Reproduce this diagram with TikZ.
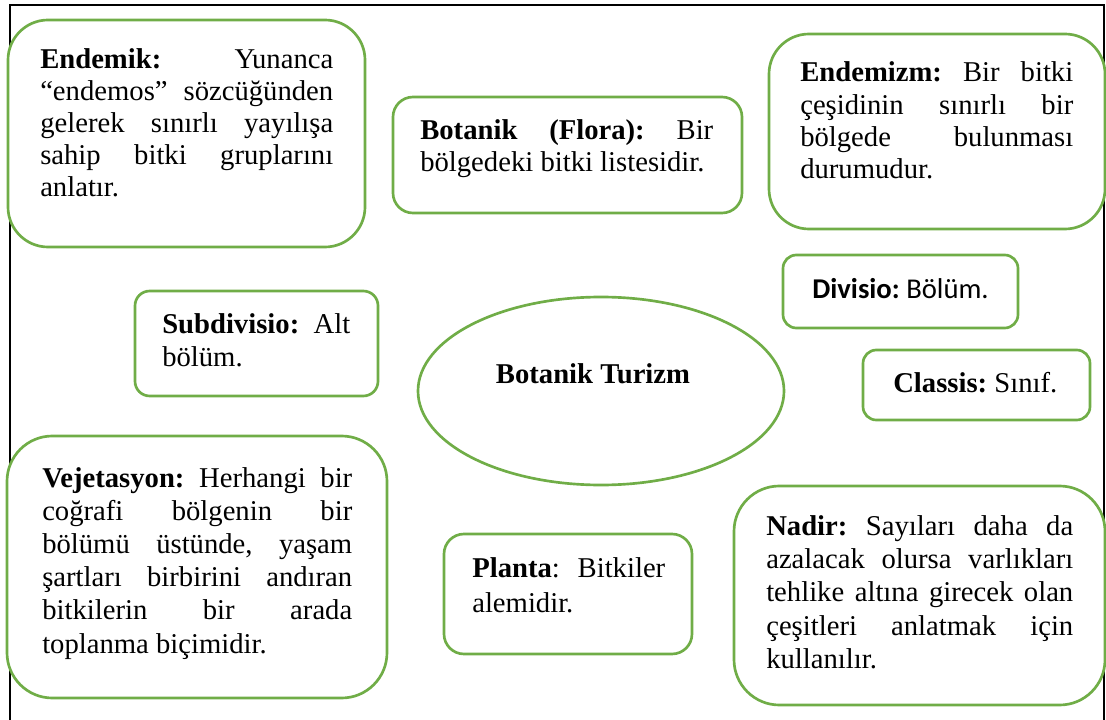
\documentclass[tikz,border=0pt]{standalone}
\usepackage{fontspec}
\setmainfont{Liberation Serif}
\newfontfamily\calibri{Carlito}
\usetikzlibrary{shapes.geometric}
\definecolor{gr}{HTML}{70AD47}
\hbadness=10000 \hfuzz=50pt
\frenchspacing
% a paragraph of given width made of explicit lines
\newcommand{\para}[2]{\vtop{\hsize=#1\relax\frenchspacing #2}}
\newcommand{\jl}[1]{\hbox to \hsize{#1}}
\newcommand{\lastline}[1]{\hbox{#1}}
\begin{document}
\begin{tikzpicture}[x=0.75pt,y=-0.75pt,
  gbox/.style={draw=gr, line width=2pt, fill=white, rectangle, rounded corners=#1, inner sep=0pt, outer sep=0pt},
  txt/.style={anchor=base west, inner sep=0pt, font=\fontsize{21.5pt}{#1}\selectfont},
  one/.style={anchor=base west, inner sep=0pt, font=\fontsize{21.5pt}{24pt}\selectfont}]
\useasboundingbox (0,0) rectangle (1106,720);
\clip (0,0) rectangle (1106,720);
% frame
\draw[line width=1.5pt] (10,730) -- (10,5) -- (1104,5) -- (1104,730);
% boxes
\node[gbox=30pt, minimum width=267.75pt, minimum height=170.25pt] (endemik) at (186.5,133.5) {};
\node[gbox=15pt, minimum width=261.75pt, minimum height=87pt] (flora) at (567.5,155) {};
\node[gbox=30pt, minimum width=252pt, minimum height=146.25pt] (endemizm) at (937,131.5) {};
\node[gbox=10pt, minimum width=176.25pt, minimum height=54.75pt] (divisio) at (900.5,291.5) {};
\node[gbox=10pt, minimum width=170.25pt, minimum height=52.5pt] (classis) at (976.5,385) {};
\node[gbox=11pt, minimum width=182.25pt, minimum height=78.75pt] (subdiv) at (256.5,343.5) {};
\node[draw=gr, line width=2pt, fill=white, ellipse, minimum width=274.5pt, minimum height=141pt, inner sep=0pt] (center) at (601,391) {};
\node[gbox=15pt, minimum width=186pt, minimum height=90pt] (planta) at (568,594) {};
\node[gbox=34pt, minimum width=285pt, minimum height=196.5pt] (vejet) at (197,567) {};
\node[gbox=34pt, minimum width=278.25pt, minimum height=164.25pt] (nadir) at (919.5,595.5) {};
% texts
\node[txt=24pt] (tendemik) at (40,69) {\para{219.75pt}{\jl{\textbf{Endemik:} Yunanca}\jl{“endemos” sözcüğünden}\jl{gelerek sınırlı yayılışa}\jl{sahip bitki gruplarını}\lastline{anlatır.}}};
\node[txt=24pt] (tflora) at (420,140) {\para{219.75pt}{\jl{\textbf{Botanik (Flora):} Bir}\lastline{bölgedeki bitki listesidir.}}};
\node[txt=24.2pt] (tendemizm) at (800,82) {\para{204.75pt}{\jl{\textbf{Endemizm:} Bir bitki}\jl{çeşidinin sınırlı bir}\jl{bölgede bulunması}\lastline{durumudur.}}};
\node[one, font=\calibri\fontsize{21.5pt}{24pt}\selectfont] (tdivisio) at (812,298) {\textbf{Divisio:} Bölüm.};
\node[one] (tclassis) at (893,392) {\textbf{Classis:} Sınıf.};
\node[txt=24.75pt] (tsubdiv) at (162,333) {\para{141pt}{\jl{\textbf{Subdivisio:} Alt}\lastline{bölüm.}}};
\node[anchor=base, inner sep=0pt, font=\fontsize{21.5pt}{24pt}\selectfont\bfseries] (tcenter) at (593,383) {Botanik Turizm};
\node[txt=26.25pt] (tplanta) at (472,577) {\para{144.75pt}{\jl{\textbf{Planta}: Bitkiler}\lastline{alemidir.}}};
\node[txt=24.9pt] (tvejet) at (42,487) {\para{232.5pt}{\jl{\textbf{Vejetasyon:} Herhangi bir}\jl{coğrafi bölgenin bir}\jl{bölümü üstünde, yaşam}\jl{şartları birbirini andıran}\jl{bitkilerin bir arada}\lastline{toplanma biçimidir.}}};
\node[txt=25pt] (tnadir) at (766,535) {\para{230.25pt}{\jl{\textbf{Nadir:} Sayıları daha da}\jl{azalacak olursa varlıkları}\jl{tehlike altına girecek olan}\jl{çeşitleri anlatmak için}\lastline{kullanılır.}}};
\end{tikzpicture}
\end{document}
